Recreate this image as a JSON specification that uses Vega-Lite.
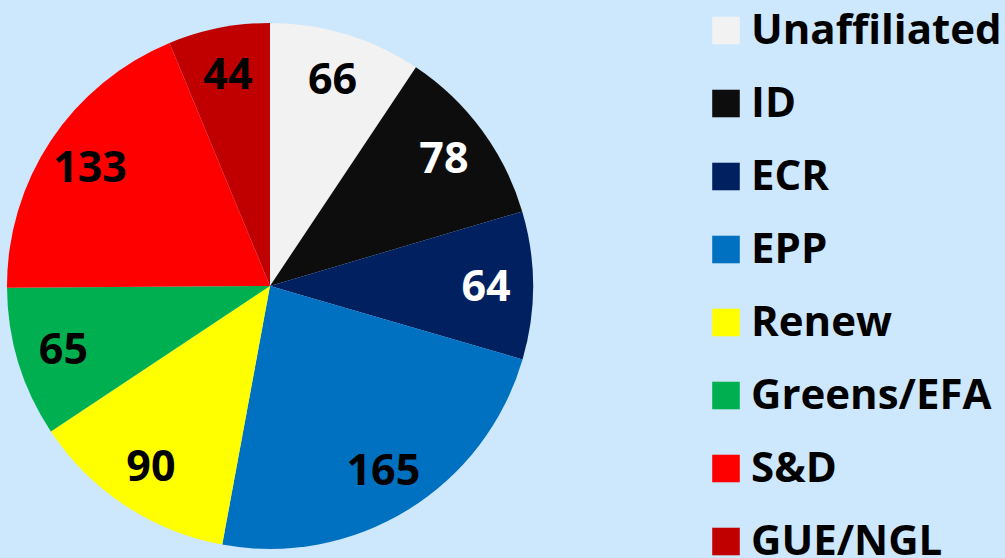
{
  "$schema": "https://vega.github.io/schema/vega-lite/v6.json",
  "autosize": "none",
  "width": 540,
  "height": 544,
  "padding": {"left": 0, "top": 14, "right": 465, "bottom": 0},
  "background": "#cde7fc",
  "config": {"view": {"stroke": null}, "font": "Open Sans"},
  "data": {"values": [
    {"group": "Unaffiliated", "seats": 66, "order": 1},
    {"group": "ID", "seats": 78, "order": 2},
    {"group": "ECR", "seats": 64, "order": 3},
    {"group": "EPP", "seats": 165, "order": 4},
    {"group": "Renew", "seats": 90, "order": 5},
    {"group": "Greens/EFA", "seats": 65, "order": 6},
    {"group": "S&D", "seats": 133, "order": 7},
    {"group": "GUE/NGL", "seats": 44, "order": 8}
  ]},
  "encoding": {
    "theta": {"field": "seats", "type": "quantitative", "stack": true},
    "order": {"field": "order", "type": "quantitative"}
  },
  "layer": [
    {
      "mark": {"type": "arc", "outerRadius": 263},
      "encoding": {
        "color": {
          "field": "group", "type": "nominal",
          "scale": {
            "domain": ["Unaffiliated", "ID", "ECR", "EPP", "Renew", "Greens/EFA", "S&D", "GUE/NGL"],
            "range": ["#f2f2f2", "#0d0d0d", "#002060", "#0070c0", "#ffff00", "#00b050", "#ff0000", "#c00000"]
          },
          "legend": {
            "title": null,
            "orient": "none",
            "legendX": 705,
            "legendY": -4.5,
            "padding": 0,
            "symbolType": "square",
            "symbolSize": 760,
            "symbolStrokeWidth": 0,
            "labelFont": "Open Sans",
            "labelFontSize": 42,
            "labelFontWeight": "bold",
            "labelColor": "#000000",
            "labelOffset": 4,
            "labelLimit": 400,
            "rowPadding": 31
          }
        }
      }
    },
    {
      "mark": {"type": "text", "radius": 216, "dy": 2, "font": "Open Sans", "fontSize": 43, "fontWeight": "bold"},
      "encoding": {
        "text": {"field": "seats", "type": "quantitative"},
        "color": {
          "condition": {"test": "datum.group === 'ID' || datum.group === 'ECR'", "value": "#ffffff"},
          "value": "#000000"
        }
      }
    }
  ]
}
